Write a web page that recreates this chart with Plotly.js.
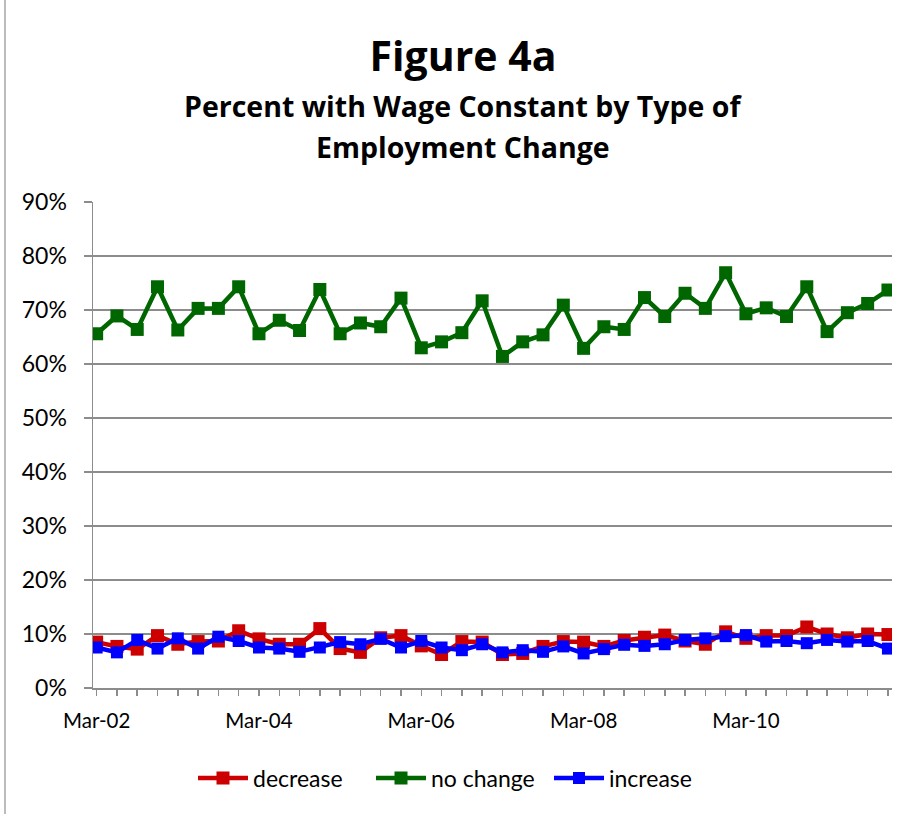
<!DOCTYPE html>
<html>
<head>
<meta charset="utf-8">
<script src="https://cdn.plot.ly/plotly-3.0.1.min.js"></script>
<style>html,body{margin:0;padding:0;background:#fff;}#chart{width:911px;height:814px;}</style>
</head>
<body>
<div id="chart"></div>
<script>
const quarters = [
  "Mar-02","Jun-02","Sep-02","Dec-02","Mar-03","Jun-03","Sep-03","Dec-03",
  "Mar-04","Jun-04","Sep-04","Dec-04","Mar-05","Jun-05","Sep-05","Dec-05",
  "Mar-06","Jun-06","Sep-06","Dec-06","Mar-07","Jun-07","Sep-07","Dec-07",
  "Mar-08","Jun-08","Sep-08","Dec-08","Mar-09","Jun-09","Sep-09","Dec-09",
  "Mar-10","Jun-10","Sep-10","Dec-10","Mar-11","Jun-11","Sep-11","Dec-11"
];
const decrease = [
  8.5, 7.7, 7.2, 9.7, 8.1, 8.6, 8.7, 10.6, 9.1, 8.1,
  8.1, 11.0, 7.3, 6.6, 9.3, 9.7, 7.8, 6.2, 8.6, 8.5,
  6.2, 6.4, 7.7, 8.6, 8.5, 7.7, 8.8, 9.4, 9.8, 8.7,
  8.1, 10.4, 9.2, 9.7, 9.7, 11.3, 10.0, 9.3, 10.0, 9.9
];
const noChange = [
  65.6, 68.9, 66.4, 74.3, 66.3, 70.3, 70.3, 74.3, 65.6, 68.1,
  66.2, 73.8, 65.6, 67.6, 66.9, 72.2, 63.0, 64.1, 65.8, 71.7,
  61.4, 64.1, 65.4, 70.9, 62.9, 66.9, 66.4, 72.3, 68.8, 73.1,
  70.3, 76.9, 69.3, 70.4, 68.8, 74.3, 66.0, 69.5, 71.2, 73.7
];
const increase = [
  7.5, 6.6, 8.9, 7.3, 9.2, 7.3, 9.5, 8.7, 7.5, 7.3,
  6.7, 7.5, 8.5, 8.1, 9.1, 7.5, 8.7, 7.5, 7.0, 8.1,
  6.6, 7.0, 6.7, 7.7, 6.4, 7.2, 8.0, 7.8, 8.1, 8.9,
  9.2, 9.6, 9.8, 8.6, 8.7, 8.3, 8.9, 8.6, 8.7, 7.3
];
const seriesNames = ["decrease", "no change", "increase"];
const titleText = "Figure 4a";
const subtitleLines = ["Percent with Wage Constant by Type of", "Employment Change"];

const idx = quarters.map((_, i) => i);
const FONT = "Lato, 'Open Sans', sans-serif";
const TFONT = "'Open Sans', Lato, sans-serif";
const GRID = "#8c8c8c";

function series(name, y, color, msize) {
  return {
    type: "scatter", mode: "lines+markers", name: name,
    x: idx, y: y,
    line: {color: color, width: 4.5},
    marker: {symbol: "square", size: msize, color: color},
    hoverinfo: "skip"
  };
}

const data = [
  series(seriesNames[0], decrease, "#cc0000", 13),
  series(seriesNames[1], noChange, "#006600", 13),
  series(seriesNames[2], increase, "#0000ff", 12)
];

const L = 93, R = 19, T = 202, B = 126, W = 911, H = 814;
const pw = W - L - R, ph = H - T - B;

const layout = {
  width: W, height: H,
  margin: {l: L, r: R, t: T, b: B, pad: 0, autoexpand: false},
  paper_bgcolor: "#ffffff", plot_bgcolor: "#ffffff",
  font: {family: FONT, color: "#000000", size: 20},
  showlegend: true,
  title: {
    text: "<b>" + titleText + "</b>",
    font: {family: TFONT, size: 41, color: "#000"},
    x: 463 / W, xanchor: "center", xref: "container",
    y: 1 - 57 / H, yanchor: "middle", yref: "container"
  },
  annotations: subtitleLines.map((t, i) => ({
    text: "<b>" + t + "</b>",
    xref: "paper", yref: "paper",
    x: (463 - L) / pw, xanchor: "center",
    y: (ph + T - (106 + i * 41)) / ph, yanchor: "middle",
    showarrow: false,
    font: {family: TFONT, size: 28.5, color: "#000"}
  })),
  xaxis: {
    range: [-0.18, 39.2],
    tickmode: "array",
    tickvals: idx,
    ticktext: quarters.map((q, i) => (i % 8 === 0 ? q : "")),
    ticks: "outside", ticklen: 6, tickwidth: 1.5, tickcolor: GRID,
    showline: true, linecolor: GRID, linewidth: 1.5,
    showgrid: false, zeroline: false,
    tickfont: {family: FONT, size: 20.5, color: "#000"},
    ticklabelstandoff: 8,
    fixedrange: true
  },
  yaxis: {
    range: [0, 90], dtick: 10, tick0: 0,
    ticksuffix: "%",
    ticks: "outside", ticklen: 8, tickwidth: 1.5, tickcolor: GRID,
    showline: true, linecolor: GRID, linewidth: 1.5,
    showgrid: true, gridcolor: GRID, gridwidth: 1.5,
    zeroline: false,
    tickfont: {family: FONT, size: 23, color: "#000"},
    ticklabelstandoff: 12,
    fixedrange: true
  },
  legend: {
    orientation: "h",
    x: (193 - L) / pw, xanchor: "left",
    y: (688 - 778) / ph, yanchor: "middle",
    font: {family: FONT, size: 23, color: "#000"},
    itemwidth: 50,
    entrywidth: 113, entrywidthmode: "pixels",
    bgcolor: "rgba(0,0,0,0)"
  },
  shapes: [{
    type: "line", xref: "paper", yref: "paper",
    x0: (5 - L) / pw, x1: (5 - L) / pw,
    y0: -B / ph, y1: (ph + T) / ph,
    line: {color: "#a6a6a6", width: 1.5}
  }]
};

Plotly.newPlot("chart", data, layout, {displayModeBar: false, staticPlot: true});
</script>
</body>
</html>
